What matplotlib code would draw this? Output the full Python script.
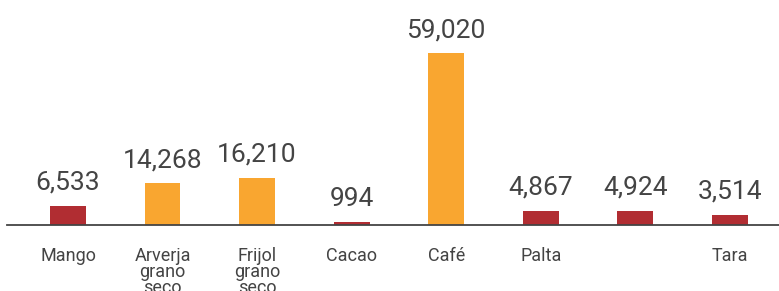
import matplotlib
matplotlib.use("Agg")
import matplotlib.pyplot as plt
import matplotlib.transforms as mtransforms

categories = ["Mango", "Arverja\ngrano\nseco", "Frijol\ngrano\nseco", "Cacao", "Café", "Palta", "", "Tara"]
values = [6533, 14268, 16210, 994, 59020, 4867, 4924, 3514]
value_labels = ["6,533", "14,268", "16,210", "994", "59,020", "4,867", "4,924", "3,514"]
is_orange = [False, True, True, False, True, False, False, False]

RED = "#B12D32"
ORANGE = "#F9A630"
TEXT = "#444444"

plt.rcParams['font.family'] = ['Roboto', 'DejaVu Sans']

fig = plt.figure(figsize=(7.79, 2.91), dpi=100)
ax = fig.add_axes([7/779, 66/291, 1 - 7/779, 225/291])

x = list(range(len(categories)))
colors = [ORANGE if o else RED for o in is_orange]
ax.bar(x, values, width=0.38, color=colors, zorder=2)

ax.set_xlim(-0.645, 7.52)
ax.set_ylim(0, 59020 * 225 / 172)

for s in ["top", "right", "left"]:
    ax.spines[s].set_visible(False)
ax.spines["bottom"].set_color("#444444")
ax.spines["bottom"].set_linewidth(1.3)
ax.set_xticks([])
ax.set_yticks([])

for xi, v, lab in zip(x, values, value_labels):
    ax.annotate(lab, (xi, v), xytext=(0, 11.5), textcoords="offset points",
                ha="center", va="baseline", fontsize=19, color=TEXT)

trans = mtransforms.blended_transform_factory(ax.transData, ax.transAxes)
for xi, c in zip(x, categories):
    ax.annotate(c, (xi, 0), xycoords=trans, xytext=(0, -15.5), textcoords="offset points",
                ha="center", va="top", fontsize=13, color=TEXT, linespacing=0.88,
                annotation_clip=False)

fig.savefig("out.png", dpi=100)
